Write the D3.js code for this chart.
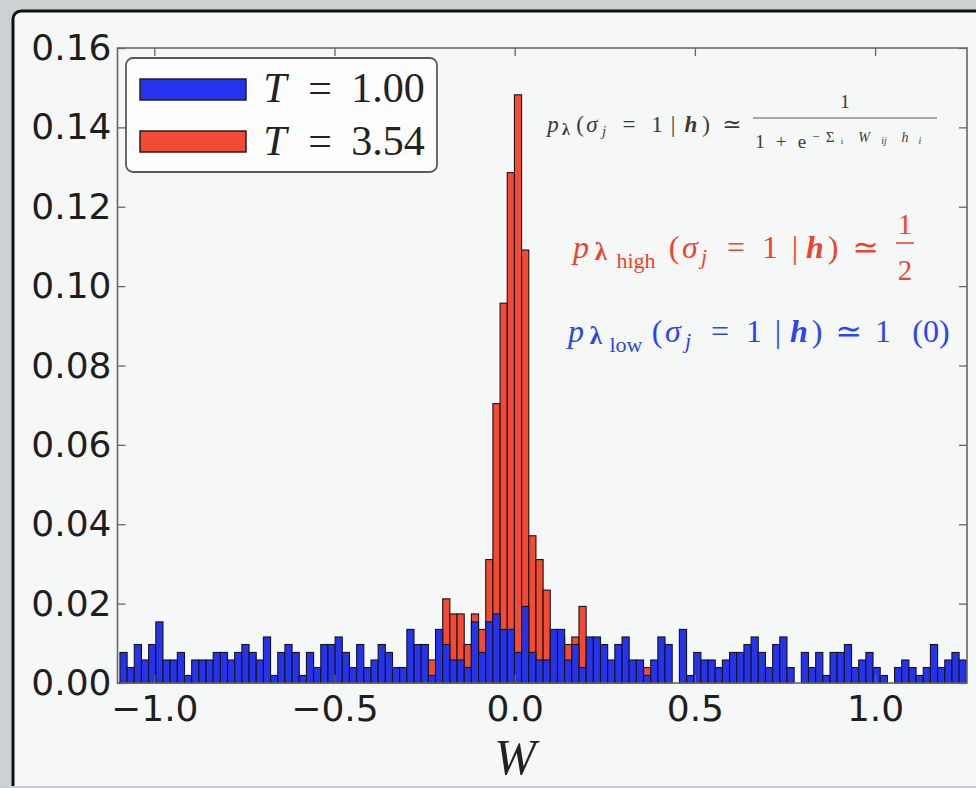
<!DOCTYPE html>
<html>
<head>
<meta charset="utf-8">
<script src="https://cdn.jsdelivr.net/npm/d3@7"></script>
<style>
  body { margin: 0; background: #cdd1d4; }
  svg { display: block; }
</style>
</head>
<body>
<svg id="chart" width="976" height="788"></svg>
<script>
// histogram bins (shared by both series)
const binStart = -1.0952;
const binWidth = 0.0199;

// T = 1.00, one value per bin
const blueValues = [
  0.0077,0.0039,0.0097,0.0058,0.0097,0.0154,0.0058,0.0058,0.0077,0.0019,
  0.0058,0.0058,0.0058,0.0077,0.0077,0.0058,0.0077,0.0097,0.0077,0.0058,
  0.0116,0.0019,0.0077,0.0097,0.0077,0.0019,0.0077,0.0039,0.0097,0.0097,
  0.0116,0.0077,0.0039,0.0097,0.0039,0.0058,0.0097,0.0077,0.0039,0.0039,
  0.0135,0.0097,0.0097,0.0019,0.0135,0.0097,0.0058,0.0058,0.0039,0.0154,
  0.0077,0.0154,0.0174,0.0135,0.0135,0.0077,0.0193,0.0077,0.0058,0.0058,
  0.0135,0.0135,0.0058,0.0097,0.0039,0.0116,0.0116,0.0097,0.0058,0.0097,
  0.0116,0.0058,0.0058,0.0019,0.0058,0.0116,0.0097,0,0.0135,0.0019,
  0.0077,0.0058,0.0058,0.0039,0.0058,0.0077,0.0077,0.0097,0.0116,0.0077,
  0.0039,0.0097,0.0116,0.0039,0,0.0077,0.0039,0.0077,0.0019,0.0077,
  0.0077,0.0097,0.0039,0.0058,0.0077,0.0039,0.0019,0,0.0039,0.0058,
  0.0039,0.0019,0.0039,0.0097,0.0039,0.0058,0.0077,0.0058
];

// T = 3.54, starts at bin index redFirstBin
const redFirstBin = 43;
const redValues = [
  0.0058,0.0077,0.0212,0.0174,0.0174,0.0097,0.0174,0.0135,0.0311,0.0704,
  0.0957,0.1286,0.1482,0.1091,0.0371,0.0311,0.0234,0.0097,0.0116,0.0097,
  0.0116,0.0193,0.0058,0.0039,0.0019,0,0.0019,0,0,0,
  0.0039
];

const xTicks = [-1.0, -0.5, 0.0, 0.5, 1.0];
const yTicks = [0, 0.02, 0.04, 0.06, 0.08, 0.10, 0.12, 0.14, 0.16];
const legendLabels = ["1.00", "3.54"];

const blueFill = "#2633ec", redFill = "#f24a35";

// glyph runs of the math labels, centred: [text, cx, dy, size, italic, bold]
function mathRun(svg, runs, baseY, color) {
  let g = svg.append("g").attr("fill", color)
    .attr("font-family", "Liberation Serif, DejaVu Serif")
    .attr("text-anchor", "middle");
  runs.forEach(function(r) {
    g.append("text")
      .attr("x", r[1]).attr("y", baseY + r[2])
      .attr("font-size", r[3])
      .attr("font-style", r[4] ? "italic" : "normal")
      .attr("font-weight", r[5] ? "bold" : "normal")
      .text(r[0]);
  });
  return g;
}

function draw() {
  let svg = d3.select("#chart");

  // screenshot frame
  svg.append("rect")
    .attr("x", 13).attr("y", 11).attr("width", 1000).attr("height", 800)
    .attr("rx", 8)
    .attr("fill", "#f6f8f7").attr("stroke", "#111").attr("stroke-width", 3);
  svg.append("rect")
    .attr("x", 0).attr("y", 786).attr("width", 976).attr("height", 2)
    .attr("fill", "#c9cdd0");

  let left = 117.5, right = 967, top = 48, bottom = 683;

  let x = d3.scaleLinear().domain([-1.102, 1.255]).range([left, right]);
  let y = d3.scaleLinear().domain([0, 0.16]).range([bottom, top]);

  let bars = svg.append("g");

  let redBins = redValues.map((v, i) => ({i: i + redFirstBin, v: v})).filter(d => d.v > 0);
  let blueBins = blueValues.map((v, i) => ({i: i, v: v})).filter(d => d.v > 0);

  // red behind, blue on top
  [[redBins, redFill], [blueBins, blueFill]].forEach(function(s) {
    bars.selectAll(null)
      .data(s[0])
      .enter()
      .append("rect")
      .attr("x", d => x(binStart + d.i * binWidth))
      .attr("width", d => x(binStart + (d.i + 1) * binWidth) - x(binStart + d.i * binWidth))
      .attr("y", d => y(d.v))
      .attr("height", d => y(0) - y(d.v))
      .attr("fill", s[1])
      .attr("stroke", "#151515")
      .attr("stroke-width", 1.1);
  });

  // axes with inward ticks on all four sides
  let fmtX = d3.format(".1f"), fmtY = d3.format(".2f");
  let bottomAxis = svg.append("g").attr("transform", `translate(0,${bottom})`)
    .call(d3.axisBottom(x).tickValues(xTicks).tickSize(-8).tickPadding(12).tickFormat(fmtX));
  let leftAxis = svg.append("g").attr("transform", `translate(${left},0)`)
    .call(d3.axisLeft(y).tickValues(yTicks).tickSize(-8).tickPadding(6).tickFormat(fmtY));
  let topAxis = svg.append("g").attr("transform", `translate(0,${top})`)
    .call(d3.axisTop(x).tickValues(xTicks).tickSize(-8).tickFormat(""));
  let rightAxis = svg.append("g").attr("transform", `translate(${right},0)`)
    .call(d3.axisRight(y).tickValues(yTicks).tickSize(-8).tickFormat(""));

  [bottomAxis, leftAxis, topAxis, rightAxis].forEach(function(a) {
    a.select(".domain").remove();
    a.selectAll(".tick line").attr("stroke", "#666").attr("stroke-width", 1.3);
    a.selectAll("text")
      .attr("font-family", "DejaVu Sans")
      .attr("font-size", 36)
      .attr("fill", "#1e1e1e");
  });

  svg.append("rect")
    .attr("x", left).attr("y", top)
    .attr("width", right - left).attr("height", bottom - top)
    .attr("fill", "none").attr("stroke", "#666").attr("stroke-width", 1.6);

  svg.append("text")
    .attr("x", 515).attr("y", 774)
    .attr("text-anchor", "middle")
    .attr("font-family", "Liberation Serif")
    .attr("font-style", "italic")
    .attr("font-size", 50)
    .attr("fill", "#222")
    .text("W");

  // legend
  let legend = svg.append("g");
  legend.append("rect")
    .attr("x", 126).attr("y", 58).attr("width", 311).attr("height", 114).attr("rx", 7)
    .attr("fill", "#fcfdfc").attr("stroke", "#5a5a5a").attr("stroke-width", 1.8);
  legend.selectAll(".patch")
    .data(legendLabels)
    .enter()
    .append("rect")
    .attr("x", 140).attr("y", (d, i) => 79 + i * 52)
    .attr("width", 106).attr("height", 21)
    .attr("fill", (d, i) => i === 0 ? blueFill : redFill)
    .attr("stroke", "#222").attr("stroke-width", 1.5);
  legendLabels.forEach(function(lab, i) {
    mathRun(svg, [
      ["T", 275, 0, 42, true],
      ["=", 320, 0, 42],
      [lab, 388, 0, 42]
    ], 102 + i * 53, "#222");
  });

  // formula annotations
  let grey = "#3a3a3a", red = "#f0432f", blue = "#2b45f0";

  mathRun(svg, [
    ["p", 553, 0, 23, true],
    ["λ", 566, 3, 16, false, true],
    ["(", 580, 0, 23],
    ["σ", 592, 0, 23, true],
    ["j", 604, 4, 15, true],
    ["=", 629, 0, 23],
    ["1", 657, 0, 23],
    ["|", 673, 0, 23],
    ["h", 691, 0, 23, true, true],
    [")", 706, 0, 23],
    ["≃", 732, 0, 23],
    ["1", 845, -24, 19],
    ["1", 760, 16, 19],
    ["+", 781, 16, 19],
    ["e", 802, 16, 19],
    ["−", 816, 9, 13],
    ["Σ", 830, 10, 15],
    ["i", 842, 12, 9],
    ["W", 864, 10, 14, true],
    ["ij", 884, 12, 10, true],
    ["h", 905, 10, 14, true],
    ["i", 920, 12, 10, true]
  ], 132, grey);
  svg.append("line").attr("x1", 753).attr("x2", 937).attr("y1", 118).attr("y2", 118)
    .attr("stroke", "#555").attr("stroke-width", 1.2);

  mathRun(svg, [
    ["p", 581, 0, 32, true],
    ["λ", 601, 2, 25, false, true],
    ["high", 636, 10, 22],
    ["(", 674, 0, 32],
    ["σ", 690, 0, 32, true],
    ["j", 704, 6, 22, true],
    ["=", 736, 0, 32],
    ["1", 770, 0, 32],
    ["|", 795, 0, 32],
    ["h", 815, 0, 32, true, true],
    [")", 833, 0, 32],
    ["≃", 866, 0, 32],
    ["1", 905, -24, 29],
    ["2", 905, 22, 29]
  ], 258, red);
  svg.append("line").attr("x1", 896).attr("x2", 914).attr("y1", 243).attr("y2", 243)
    .attr("stroke", red).attr("stroke-width", 1.6);

  mathRun(svg, [
    ["p", 576, 0, 32, true],
    ["λ", 596, 2, 25, false, true],
    ["low", 626, 10, 22],
    ["(", 657, 0, 32],
    ["σ", 673, 0, 32, true],
    ["j", 688, 6, 22, true],
    ["=", 720, 0, 32],
    ["1", 754, 0, 32],
    ["|", 778, 0, 32],
    ["h", 799, 0, 32, true, true],
    [")", 817, 0, 32],
    ["≃", 849, 0, 32],
    ["1", 883, 0, 32],
    ["(0)", 931, 0, 32]
  ], 342, blue);
}

draw();
</script>
</body>
</html>
